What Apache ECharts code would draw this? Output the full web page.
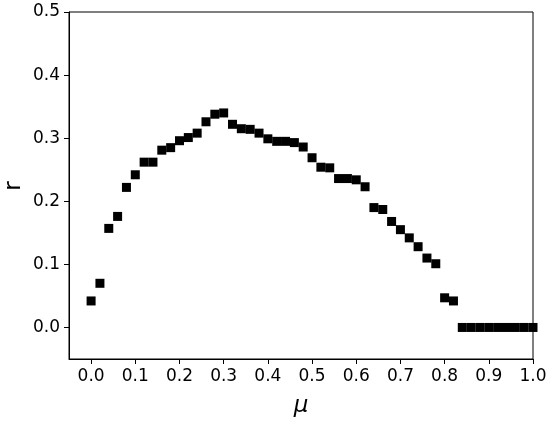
<!DOCTYPE html>
<html>
<head>
<meta charset="utf-8">
<script src="https://cdn.jsdelivr.net/npm/echarts@6/dist/echarts.min.js"></script>
<style>
  html, body { margin: 0; padding: 0; background: #fff; }
  #chart { width: 550px; height: 421px; }
</style>
</head>
<body>
<div id="chart"></div>
<script>
// mu values (x) and r values (y)
var muValues = [0.00, 0.02, 0.04, 0.06, 0.08, 0.10, 0.12, 0.14, 0.16, 0.18,
                0.20, 0.22, 0.24, 0.26, 0.28, 0.30, 0.32, 0.34, 0.36, 0.38,
                0.40, 0.42, 0.44, 0.46, 0.48, 0.50, 0.52, 0.54, 0.56, 0.58,
                0.60, 0.62, 0.64, 0.66, 0.68, 0.70, 0.72, 0.74, 0.76, 0.78,
                0.80, 0.82, 0.84, 0.86, 0.88, 0.90, 0.92, 0.94, 0.96, 0.98, 1.00];
var rValues = [0.042, 0.070, 0.157, 0.176, 0.222, 0.242, 0.262, 0.262, 0.281, 0.285,
               0.296, 0.301, 0.308, 0.326, 0.338, 0.340, 0.322, 0.315, 0.314, 0.308,
               0.299, 0.295, 0.295, 0.293, 0.286, 0.269, 0.254, 0.253, 0.236, 0.236,
               0.234, 0.223, 0.190, 0.187, 0.168, 0.155, 0.142, 0.128, 0.110, 0.101,
               0.047, 0.042, 0, 0, 0, 0, 0, 0, 0, 0, 0];
var xTicks = [0, 0.1, 0.2, 0.3, 0.4, 0.5, 0.6, 0.7, 0.8, 0.9, 1.0];
var yTicks = [0, 0.1, 0.2, 0.3, 0.4, 0.5];

var chart = echarts.init(document.getElementById('chart'));
var font = "'DejaVu Sans', sans-serif";
var points = muValues.map(function (m, i) { return [m, rValues[i]]; });

var option = {
  animation: false,
  grid: {
    left: 69, right: 17, top: 12, bottom: 62,
    outerBoundsMode: 'none',
    show: true, borderColor: '#000', borderWidth: 1
  },
  // y axis title, placed by hand so it sits where the reference has it
  graphic: [{
    type: 'text',
    x: 14, y: 186,
    rotation: Math.PI / 2,
    style: {
      text: 'r', fill: '#000',
      font: "23px 'DejaVu Sans', sans-serif",
      align: 'center', verticalAlign: 'middle'
    }
  }],
  xAxis: {
    type: 'value',
    min: -0.05, max: 1.0,
    name: 'μ', nameLocation: 'middle', nameGap: 36,
    nameTextStyle: { fontFamily: font, fontSize: 23, fontStyle: 'italic', color: '#000' },
    axisLine: { onZero: false, lineStyle: { color: '#000' } },
    axisTick: { show: true, length: 5, lineStyle: { color: '#000' }, customValues: xTicks },
    axisLabel: {
      customValues: xTicks, margin: 9,
      fontFamily: font, fontSize: 17, color: '#000',
      formatter: function (v) { return v.toFixed(1); }
    },
    splitLine: { show: false }
  },
  yAxis: {
    type: 'value',
    min: -0.05, max: 0.5,
    axisLine: { show: true, onZero: false, lineStyle: { color: '#000' } },
    axisTick: { show: true, length: 5, lineStyle: { color: '#000' }, customValues: yTicks },
    axisLabel: {
      customValues: yTicks, margin: 9,
      fontFamily: font, fontSize: 17, color: '#000',
      formatter: function (v) { return v.toFixed(1); }
    },
    splitLine: { show: false }
  },
  series: [{
    type: 'scatter',
    data: points,
    symbol: 'rect',
    symbolSize: 9,
    itemStyle: { color: '#000', opacity: 1 }
  }]
};
chart.setOption(option);
</script>
</body>
</html>
